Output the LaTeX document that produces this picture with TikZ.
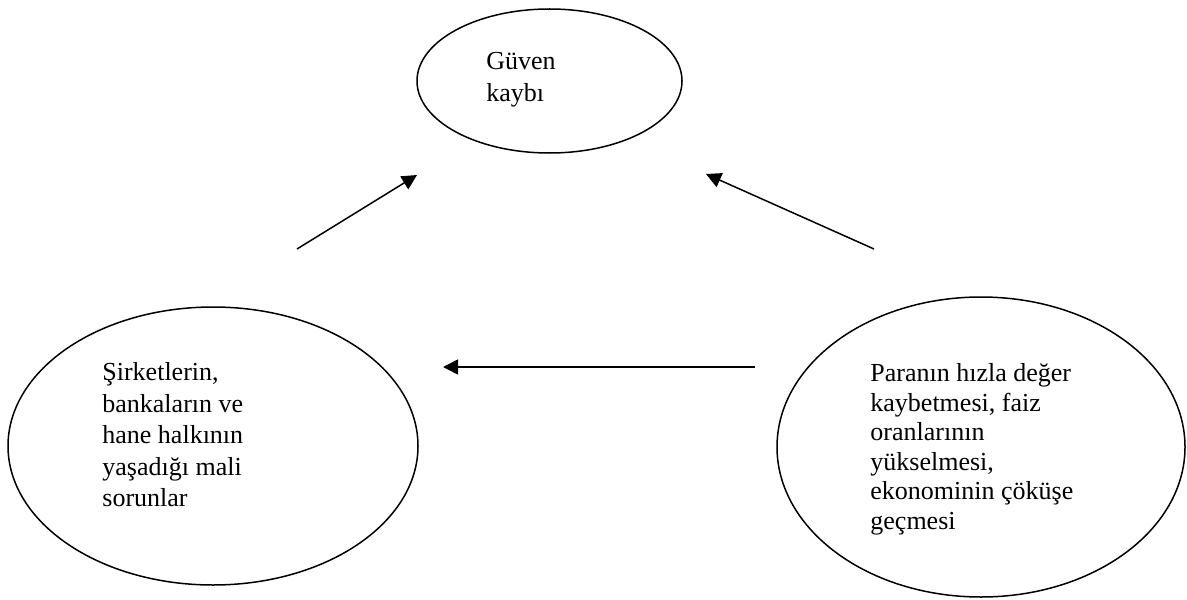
\documentclass[tikz,border=0pt]{standalone}
\usepackage{fontspec}
\setmainfont{Liberation Serif}
\usetikzlibrary{shapes.geometric,arrows.meta}

\tikzset{
  bubble/.style={draw, ellipse, line width=0.75pt, inner sep=0pt},
  txt/.style={anchor=north west, inner sep=0pt, align=left,
    font=\fontsize{13}{#1}\selectfont},
  txt/.default=14.8pt,
  arr/.style={line width=0.75pt, -{Triangle[length=7.5pt,width=7.5pt]}}
}

\begin{document}
\begin{tikzpicture}[x=0.5pt, y=-0.5pt]
  \useasboundingbox (0,0) rectangle (1187,599);
  % ellipses
  \node[bubble, minimum width=132.5pt, minimum height=72pt] (guven) at (549.5,81) {};
  \node[bubble, minimum width=205pt, minimum height=139pt] (sorun) at (213,446) {};
  \node[bubble, minimum width=204pt, minimum height=150pt] (para) at (981,447) {};
  % texts
  \node[txt=16pt] (tguven) at (486,52) {Güven\\kaybı};
  \node[txt=15.8pt] (tsorun) at (102,362) {Şirketlerin,\\bankaların ve\\hane halkının\\yaşadığı mali\\sorunlar};
  \node[txt] (tpara) at (870,363) {Paranın hızla değer\\kaybetmesi, faiz\\oranlarının\\yükselmesi,\\ekonominin çöküşe\\geçmesi};
  % arrows
  \coordinate (s1) at (297,249);
  \coordinate (e1) at (417,175);
  \coordinate (s2) at (874,249);
  \coordinate (e2) at (706,174);
  \coordinate (s3) at (755,367);
  \coordinate (e3) at (443,367);
  \draw[arr] (s1) -- (e1);
  \draw[arr] (s2) -- (e2);
  \draw[arr] (s3) -- (e3);
\end{tikzpicture}
\end{document}
